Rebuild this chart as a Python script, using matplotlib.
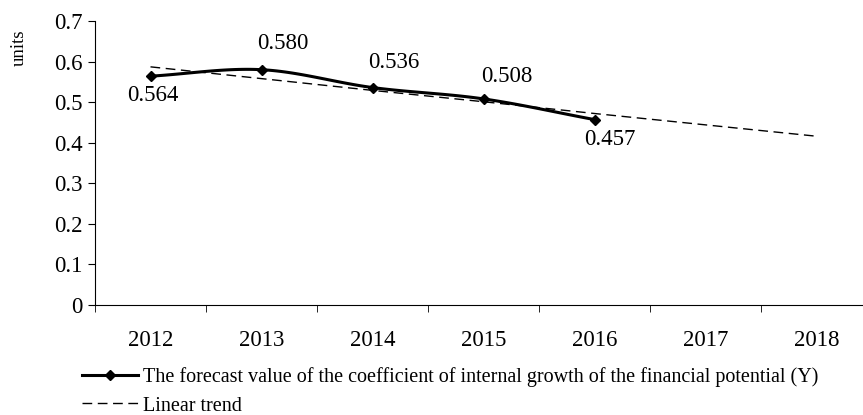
import numpy as np
import matplotlib.pyplot as plt

years = ["2012", "2013", "2014", "2015", "2016", "2017", "2018"]
forecast = [0.564, 0.580, 0.536, 0.508, 0.457]
trend = [0.587, 0.558, 0.529, 0.501, 0.472, 0.444, 0.416]
label_text = ["0.564", "0.580", "0.536", "0.508", "0.457"]

plt.rcParams['font.family'] = ['Liberation Serif', 'DejaVu Serif']


def catmull_rom(xs, ys, n=30):
    # smooth curve through the points, like Excel's smoothed line
    xs = np.asarray(xs, float)
    ys = np.asarray(ys, float)
    px = np.concatenate([[2 * xs[0] - xs[1]], xs, [2 * xs[-1] - xs[-2]]])
    py = np.concatenate([[2 * ys[0] - ys[1]], ys, [2 * ys[-1] - ys[-2]]])
    out_x, out_y = [], []
    for i in range(1, len(px) - 2):
        t = np.linspace(0, 1, n)
        for p, out in ((px, out_x), (py, out_y)):
            p0, p1, p2, p3 = p[i - 1], p[i], p[i + 1], p[i + 2]
            out.extend(0.5 * (2 * p1 + (-p0 + p2) * t + (2 * p0 - 5 * p1 + 4 * p2 - p3) * t ** 2
                              + (-p0 + 3 * p1 - 3 * p2 + p3) * t ** 3))
    return out_x, out_y


fig = plt.figure(figsize=(8.63, 4.15), dpi=100)
# axis runs past the right edge of the picture, as in the original
ax = fig.add_axes([95 / 863, 1 - 305 / 415, 777 / 863, 284 / 415])
ax.spines['bottom'].set_clip_on(False)

x = np.arange(len(forecast))
sx, sy = catmull_rom(x, forecast)
ax.plot(sx, sy, color='black', lw=2.2)
ax.plot(x, forecast, 'D', color='black', ms=5)
tr, = ax.plot(np.arange(len(trend)), trend, color='black', lw=1, ls=(0, (7, 4)))

# label offsets in points (dx, dy)
offs = [(2, -14), (15, 19), (15, 18), (17, 16), (11, -14.5)]
for i, t in enumerate(label_text):
    ax.annotate(t, (x[i], forecast[i]), xytext=offs[i], textcoords='offset points',
                ha='center', va='center', fontsize=16.5)

ax.set_xlim(-0.5, len(years) - 0.5)
ax.set_ylim(0, 0.7)
ax.set_yticks(np.arange(0, 0.71, 0.1))
ax.set_yticklabels(["0", "0.1", "0.2", "0.3", "0.4", "0.5", "0.6", "0.7"])
ax.set_xticks(np.arange(len(years)))
ax.set_xticklabels(years)
ax.set_xticks(np.arange(-0.5, len(years)), minor=True)
ax.tick_params(axis='x', which='major', length=0, pad=18, labelsize=16.5)
ax.tick_params(axis='x', which='minor', length=5, direction='out')
ax.tick_params(axis='y', length=5, pad=4, labelsize=16.5)
ax.spines['top'].set_visible(False)
ax.spines['right'].set_visible(False)
ax.set_ylabel("units", fontsize=13.5)
ax.yaxis.set_label_coords(-0.087, 0.905)

line_leg = plt.Line2D([], [], color='black', lw=2.2, marker='D', ms=5)
fig.legend([line_leg, tr],
           ["The forecast value of the coefficient of internal growth of the financial potential (Y)",
            "Linear trend"],
           loc='upper left', bbox_to_anchor=(82 / 863, 0.116), frameon=False, fontsize=14.5,
           handlelength=2.8, handletextpad=0.25, labelspacing=0.48, borderaxespad=0,
           borderpad=0)

plt.savefig("out.png")
